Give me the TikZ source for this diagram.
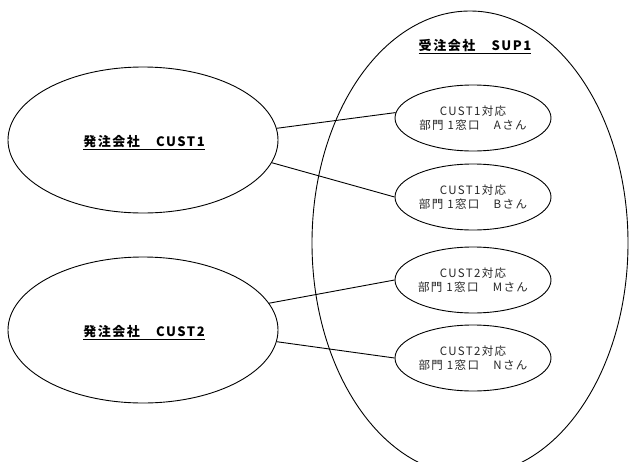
\documentclass[tikz,border=0pt]{standalone}
\usepackage{fontspec}
\usetikzlibrary{shapes.geometric}
\newfontfamily\jpsmall{Noto Sans CJK JP}[LetterSpace=12]
\newfontfamily\jpbig{Noto Sans CJK JP}[LetterSpace=12]
\tikzset{
  bigell/.style={ellipse, draw, line width=0.9pt, inner sep=0pt, minimum width=270pt, minimum height=146pt},
  smallell/.style={ellipse, draw, line width=0.9pt, inner sep=0pt, minimum width=156pt, minimum height=66pt,
     align=center, font=\jpsmall\fontsize{11.5pt}{14pt}\selectfont, text=black!85},
  supell/.style={ellipse, draw, line width=0.9pt, inner sep=0pt, minimum width=316pt, minimum height=464pt},
  biglabel/.style={font=\jpbig\bfseries\fontsize{13pt}{16pt}\selectfont, inner sep=0pt},
  conn/.style={line width=0.9pt}
}
\begin{document}
\begin{tikzpicture}[x=1pt,y=-1pt]
\useasboundingbox (0,0) rectangle (629,461);
\clip (0,0) rectangle (629,461);
\fill[white] (0,0) rectangle (629,461);
\node[supell] (sup) at (470,243) {};
\node[biglabel] (suplabel) at (475,47) {\underline{受注会社　SUP1}};
\node[bigell] (c1) at (143,140) {};
\node[biglabel] (c1label) at (144,143) {\underline{発注会社　CUST1}};
\node[bigell] (c2) at (143,330) {};
\node[biglabel] (c2label) at (144,333) {\underline{発注会社　CUST2}};
\node[smallell] (a) at (473,118) {CUST1対応\\部門 1窓口　Aさん};
\node[smallell] (b) at (473,197) {CUST1対応\\部門 1窓口　Bさん};
\node[smallell] (m) at (473,280) {CUST2対応\\部門 1窓口　Mさん};
\node[smallell] (n) at (473,358) {CUST2対応\\部門 1窓口　Nさん};
\draw[conn] (c1.5) -- (a.176);
\draw[conn] (c1.-10) -- (b.west);
\draw[conn] (c2.12) -- (m.west);
\draw[conn] (c2.-5) -- (n.west);
\end{tikzpicture}
\end{document}
